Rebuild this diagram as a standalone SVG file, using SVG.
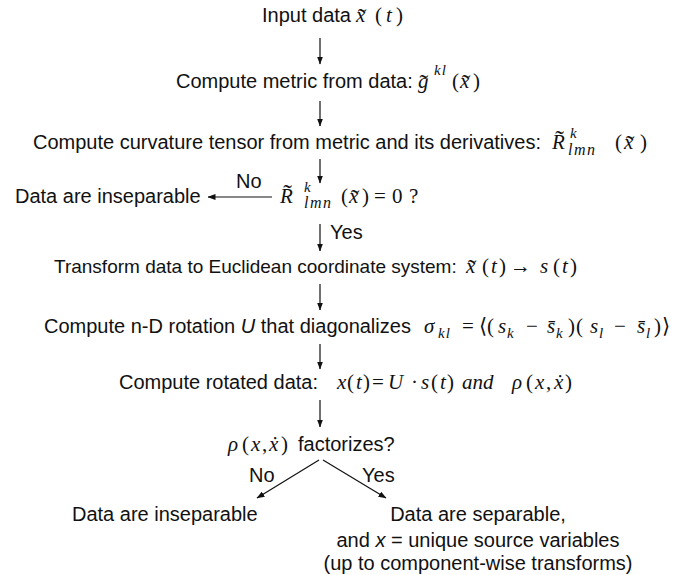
<svg xmlns="http://www.w3.org/2000/svg" width="697" height="575" viewBox="0 0 697 575">
<defs>
<marker id="ah" markerUnits="userSpaceOnUse" markerWidth="8" markerHeight="6" refX="7.5" refY="3" orient="auto"><path d="M0,0 L8,3 L0,6 z" fill="#111"/></marker>
<style>
.t{font-family:"Liberation Sans",Arial,sans-serif;font-size:20px;fill:#111}
.t19{font-size:19px}
.m{font-family:"Liberation Serif","Times New Roman","DejaVu Serif",serif;font-size:21px;font-style:italic;fill:#111}
.u{font-family:"Liberation Serif","Times New Roman","DejaVu Serif",serif;font-size:21px;fill:#111}
.s{font-family:"Liberation Serif","Times New Roman",serif;font-size:15px;font-style:italic;fill:#111}
.s16{font-size:16px;letter-spacing:1.5px}
.w{font-size:26px;font-style:normal}
.c line{stroke:#111;stroke-width:1.2;marker-end:url(#ah)}
</style>
</defs>
<rect width="697" height="575" fill="#fff"/>
<g id="n1">
<text class="t" x="262" y="22">Input data</text>
<text class="m" x="356" y="22">x<tspan class="w" dx="-7.5" dy="4">˜</tspan></text>
<text class="u" x="375" y="22">(</text><text class="m" x="386" y="22">t</text><text class="u" x="396" y="22">)</text>
</g>
<g id="n2">
<text class="t" x="176" y="88">Compute metric from data:</text>
<text class="m" x="418" y="88">g<tspan class="w" dx="-9" dy="4">˜</tspan></text>
<text class="s" x="434" y="75" letter-spacing="1">kl</text>
<text class="u" x="452" y="88">(</text><text class="m" x="460" y="88">x<tspan class="w" dx="-7.5" dy="4">˜</tspan></text><text class="u" x="473" y="88">)</text>
</g>
<g id="n3">
<text class="t" x="33" y="149">Compute curvature tensor from metric and its derivatives:</text>
<text class="m" x="552" y="149">R<tspan class="w" dx="-9.5" dy="-1">˜</tspan></text>
<text class="s" x="570" y="138">k</text>
<text class="s s16" x="568" y="155">lmn</text>
<text class="u" x="615" y="149">(</text><text class="m" x="624" y="149">x<tspan class="w" dx="-7.5" dy="4">˜</tspan></text><text class="u" x="640" y="149">)</text>
</g>
<g id="n4">
<text class="m" x="280" y="203">R<tspan class="w" dx="-9.5" dy="-1">˜</tspan></text>
<text class="s" x="304" y="192">k</text>
<text class="s s16" x="304" y="208">lmn</text>
<text class="u" x="341" y="203">(</text><text class="m" x="349" y="203">x<tspan class="w" dx="-7.5" dy="4">˜</tspan></text><text class="u" x="362" y="203">)</text>
<text class="u" x="374" y="203">=</text><text class="u" x="392" y="203">0</text><text class="u" x="409" y="203">?</text>
</g>
<g id="n5">
<text class="t" x="15" y="203">Data are inseparable</text>
</g>
<g id="n6">
<text class="t t19" x="54" y="273">Transform data to Euclidean coordinate system:</text>
<text class="m" x="466" y="273">x<tspan class="w" dx="-7.5" dy="4">˜</tspan></text>
<text class="u" x="482" y="273">(</text><text class="m" x="491" y="273">t</text><text class="u" x="499" y="273">)</text>
<text class="u" x="510" y="273">→</text>
<text class="m" x="540" y="273">s</text>
<text class="u" x="553" y="273">(</text><text class="m" x="562" y="273">t</text><text class="u" x="570" y="273">)</text>
</g>
<g id="n7">
<text class="t" x="44" y="333">Compute n-D rotation <tspan font-style="italic">U</tspan> that diagonalizes</text>
<text class="m" x="424" y="333">σ</text><text class="s" x="438" y="338" letter-spacing="1">kl</text>
<text class="u" x="462" y="333">=</text>
<text class="u" x="479" y="333">⟨</text><text class="u" x="487" y="333">(</text>
<text class="m" x="498" y="333">s</text><text class="s" x="507" y="338">k</text>
<text class="u" x="526" y="333">−</text>
<text class="m" x="547" y="333">s̄</text><text class="s" x="556" y="338">k</text>
<text class="u" x="568" y="333">)</text><text class="u" x="576" y="333">(</text>
<text class="m" x="590" y="333">s</text><text class="s" x="599" y="338">l</text>
<text class="u" x="614" y="333">−</text>
<text class="m" x="637" y="333">s̄</text><text class="s" x="646" y="338">l</text>
<text class="u" x="654" y="333">)</text><text class="u" x="662" y="333">⟩</text>
</g>
<g id="n8">
<text class="t" x="119" y="389">Compute rotated data:</text>
<text class="m" x="337" y="389">x</text>
<text class="u" x="347" y="389">(</text><text class="m" x="356" y="389">t</text><text class="u" x="363" y="389">)</text>
<text class="u" x="372" y="389">=</text>
<text class="m" x="388" y="389">U</text>
<text class="u" x="411" y="389">·</text>
<text class="m" x="421" y="389">s</text>
<text class="u" x="431" y="389">(</text><text class="m" x="440" y="389">t</text><text class="u" x="447" y="389">)</text>
<text class="m" x="462" y="389">and</text>
<text class="m" x="512" y="389">ρ</text>
<text class="u" x="526" y="389">(</text><text class="m" x="535" y="389">x</text><text class="u" x="546" y="389">,</text>
<text class="m" x="554" y="389">ẋ</text>
<text class="u" x="565" y="389">)</text>
</g>
<g id="n9">
<text class="m" x="228" y="451">ρ</text>
<text class="u" x="242" y="451">(</text><text class="m" x="251" y="451">x</text><text class="u" x="262" y="451">,</text>
<text class="m" x="269" y="451">ẋ</text>
<text class="u" x="281" y="451">)</text>
<text class="t" x="298" y="451">factorizes?</text>
</g>
<g id="n10">
<text class="t" x="72" y="521">Data are inseparable</text>
</g>
<g id="n11">
<text class="t" x="478" y="521" text-anchor="middle">Data are separable,</text>
<text class="t" x="478" y="547" text-anchor="middle">and <tspan font-style="italic">x</tspan> = unique source variables</text>
<text class="t" x="478" y="570" text-anchor="middle">(up to component-wise transforms)</text>
</g>
<g id="connectors" class="c">
<line x1="320" y1="38" x2="320" y2="64"/>
<line x1="320" y1="101" x2="320" y2="126"/>
<line x1="320" y1="159" x2="320" y2="183"/>
<line x1="272" y1="197" x2="208" y2="197"/>
<line x1="320" y1="224" x2="320" y2="251"/>
<line x1="320" y1="284" x2="320" y2="310"/>
<line x1="320" y1="344" x2="320" y2="369"/>
<line x1="320" y1="400" x2="320" y2="427"/>
<line x1="319" y1="460" x2="257" y2="498"/>
<line x1="323" y1="460" x2="386" y2="498"/>
</g>
<g id="labels">
<text class="t" x="236" y="188">No</text>
<text class="t" x="330" y="239">Yes</text>
<text class="t" x="249" y="482">No</text>
<text class="t" x="362" y="482">Yes</text>
</g>
</svg>
